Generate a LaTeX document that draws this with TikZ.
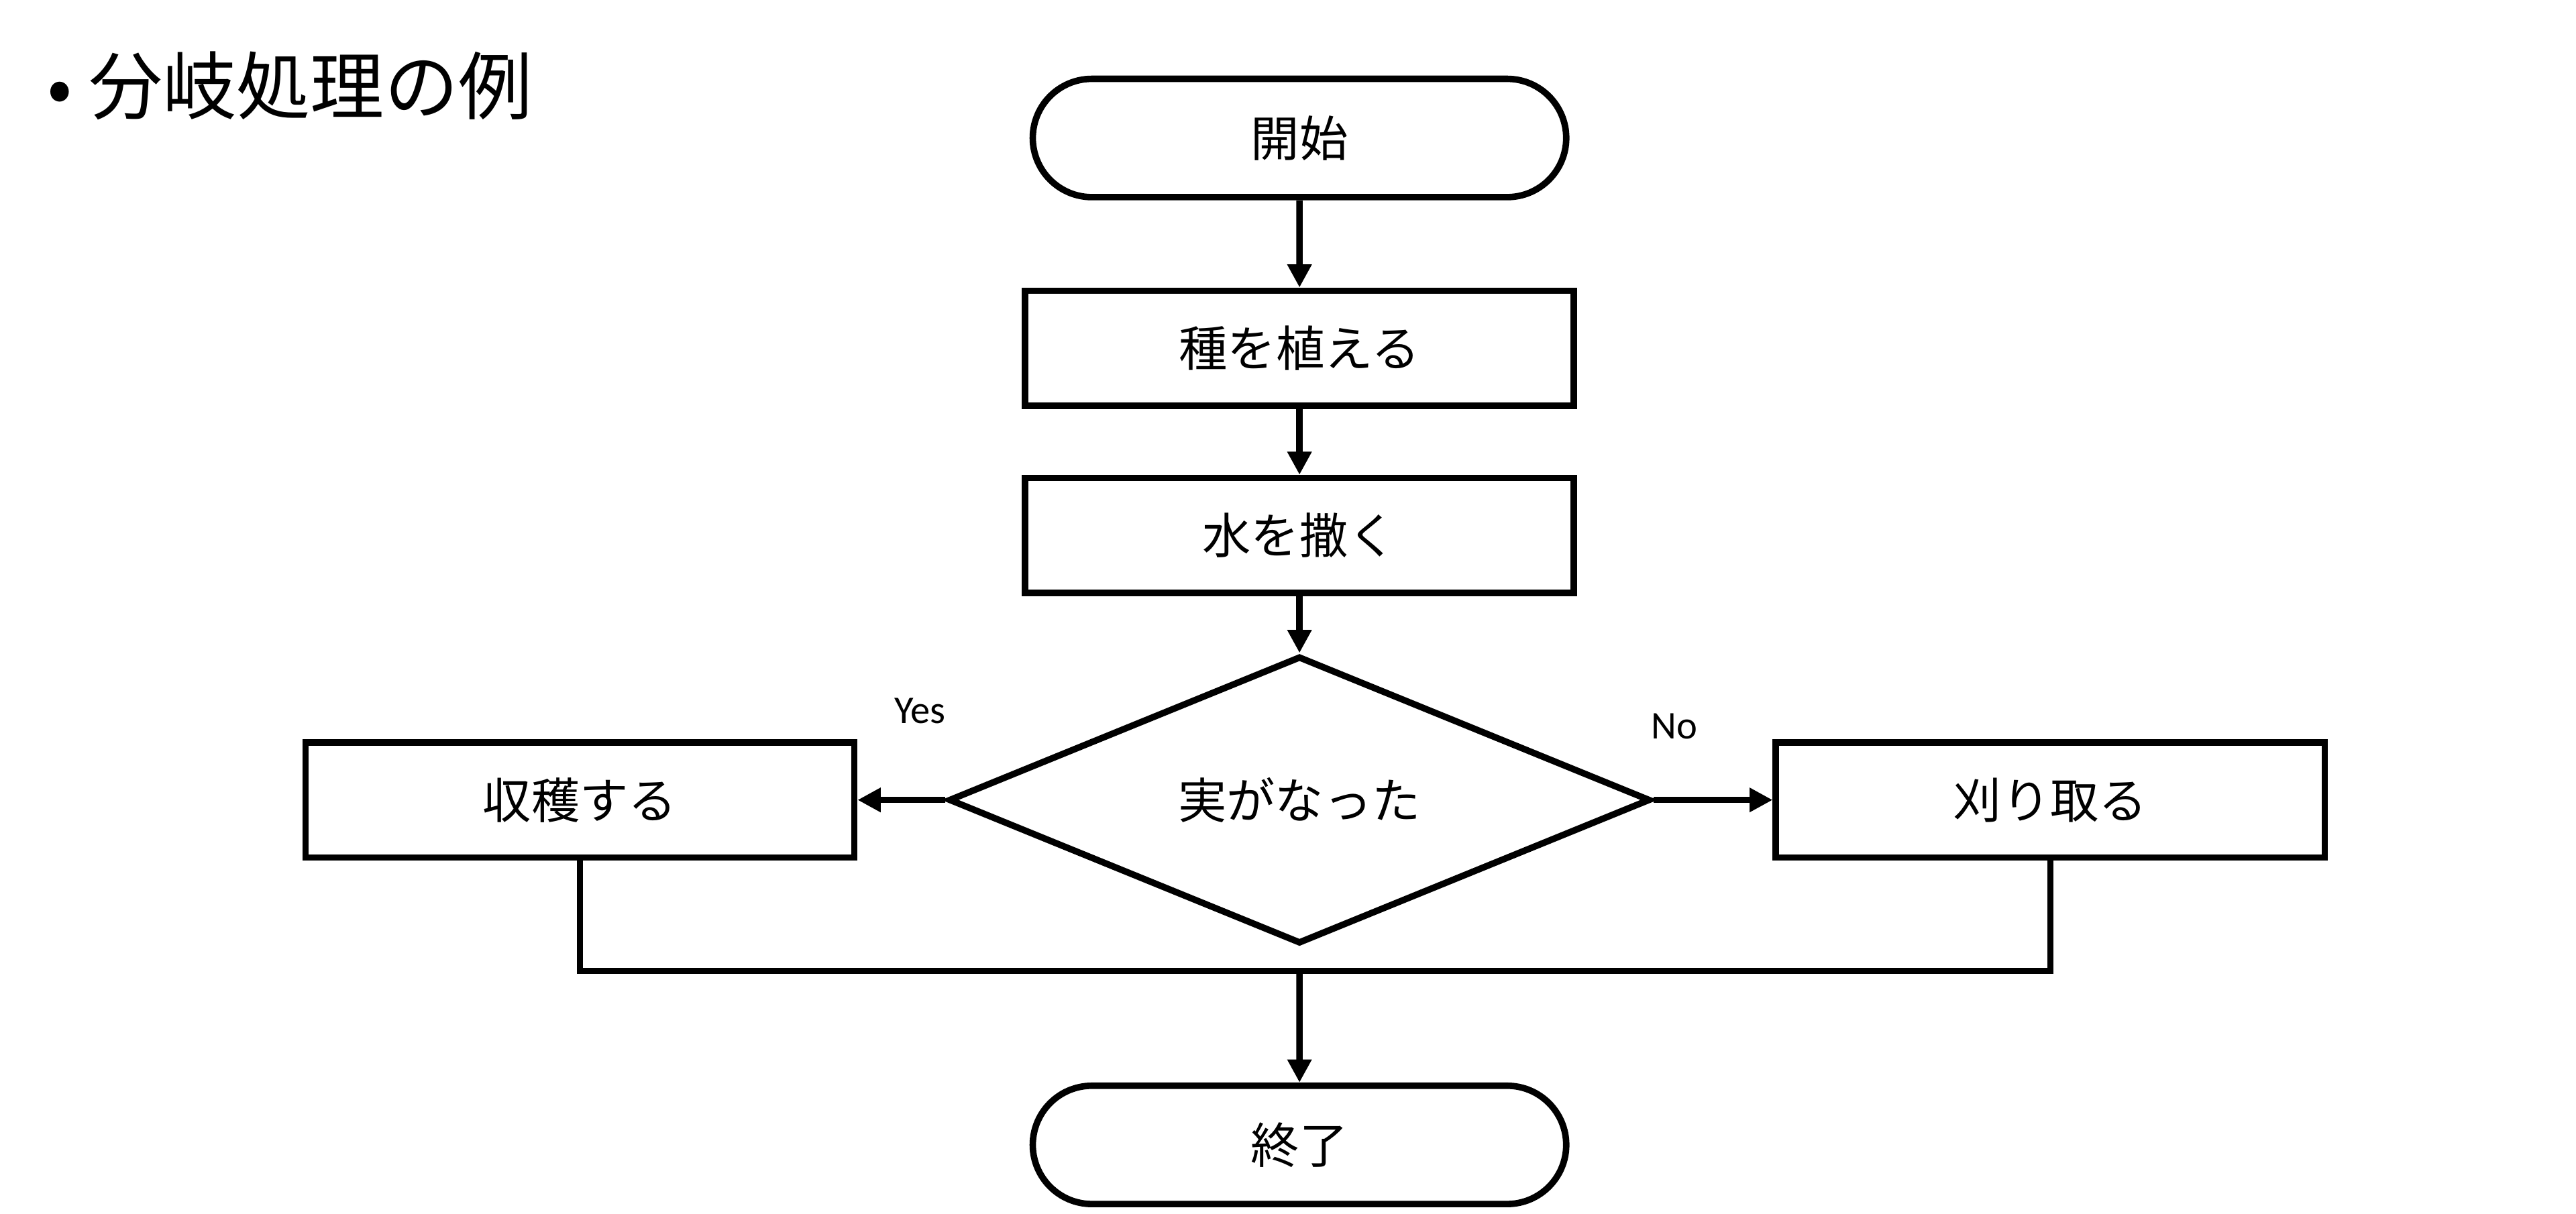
\documentclass[tikz,border=0pt]{standalone}
\usepackage{fontspec}
\setmainfont{Noto Sans CJK JP}
\newfontfamily\latinfont{Carlito}
\usetikzlibrary{arrows.meta, shapes.geometric, shapes.misc}

\begin{document}
\begin{tikzpicture}[x=0.025cm, y=-0.025cm,
    every path/.style={line width=2.8pt},
    flowarrow/.style={-{Triangle[length=10pt, width=10pt]}},
    procbox/.style={draw, rectangle, minimum width=8.35cm, minimum height=1.75cm, font=\fontsize{21}{24}\selectfont},
    termbox/.style={draw, rounded rectangle, minimum width=8.35cm, minimum height=1.8cm, font=\fontsize{21}{24}\selectfont},
    decbox/.style={draw, diamond, inner sep=0pt, minimum width=10.675cm, minimum height=2.75cm, font=\fontsize{21}{24}\selectfont}]
  \useasboundingbox (0,0) rectangle (1568,739);
  % Title
  \node[anchor=west, font=\fontsize{32}{36}\selectfont] (title) at (22,52) {• 分岐処理の例};
  % Flow nodes
  \node[termbox] (start) at (791,84) {開始};
  \node[procbox] (seed) at (791,212) {種を植える};
  \node[procbox] (water) at (791,326) {水を撒く};
  \node[decbox] (fruit) at (791,487) {実がなった};
  \node[procbox] (harvest) at (353,487) {収穫する};
  \node[procbox] (cut) at (1248,487) {刈り取る};
  \node[termbox] (end) at (791,697) {終了};
  % Branch labels
  \node[font=\latinfont\fontsize{17}{20}\selectfont] (yes) at (560,433) {Yes};
  \node[font=\latinfont\fontsize{17}{20}\selectfont] (no) at (1019,442) {No};
  % Connectors
  \draw[flowarrow] (start) -- (seed);
  \draw[flowarrow] (seed) -- (water);
  \draw[flowarrow] (water) -- (fruit);
  \draw[flowarrow] (fruit.west) -- (harvest.east);
  \draw[flowarrow] (fruit.east) -- (cut.west);
  \coordinate (join) at (791,591);
  \draw (harvest.south) |- (join) -| (cut.south);
  \draw[flowarrow] (join) -- (end);
\end{tikzpicture}
\end{document}
